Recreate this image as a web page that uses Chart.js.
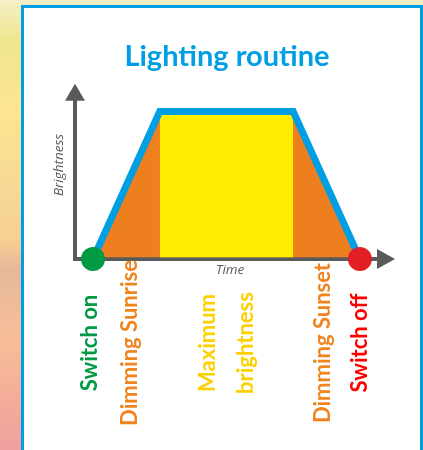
<!DOCTYPE html>
<html>
<head>
<meta charset="utf-8">
<script src="https://cdn.jsdelivr.net/npm/chart.js@4.4.1/dist/chart.umd.min.js"></script>
<style>
  body {
    margin: 0;
    width: 423px;
    height: 450px;
    overflow: hidden;
    position: relative;
    background: linear-gradient(180deg, #f4efc8 0%, #efe690 9%, #fce590 25%, #f6d596 46%, #f7cf92 53%, #e5b89b 60%, #f8be98 75%, #f4ad9a 88%, #f0a0a0 100%);
  }
  #panel {
    position: absolute;
    left: 21px;
    top: 5px;
    width: 396px;
    height: 460px;
    border: 3px solid #009fe3;
    border-bottom: none;
    background: #fff;
  }
  #chart {
    position: absolute;
    left: 0;
    top: 0;
  }
</style>
</head>
<body>
<div id="panel"></div>
<canvas id="chart" width="423" height="450"></canvas>
<script>
// lighting profile: time (0..100) against relative brightness (0..1)
const phaseTime = [0, 25, 75, 100];
const phaseLevel = [0, 1, 1, 0];
const fullTime = [25, 25, 75, 75];
const fullLevel = [0, 1, 1, 0];
const switchTime = [0, 100];
const switchLevel = [0, 0];

const stageLabels = ['Switch on', 'Dimming Sunrise', ['Maximum', 'brightness'], 'Dimming Sunset', 'Switch off'];
const stageTime = [-1.3, 14, 50, 86, 100];
const stageColors = ['#009a44', '#f0841f', '#fdd000', '#f0841f', '#ff0000'];

const blue = '#009fe3';
const orange = '#ee7f1e';
const yellow = '#ffed00';
const grey = '#5a5a5a';

const toPoints = (xs, ys) => xs.map((x, i) => ({x: x, y: ys[i]}));

const arrowsAndLabels = {
  id: 'arrowsAndLabels',
  afterDraw(chart) {
    const {ctx, chartArea, scales} = chart;
    const x = scales.x;
    ctx.save();
    // arrow heads on the axes
    ctx.fillStyle = grey;
    ctx.beginPath();
    ctx.moveTo(chartArea.right - 8, chartArea.bottom - 10);
    ctx.lineTo(chartArea.right + 10, chartArea.bottom);
    ctx.lineTo(chartArea.right - 8, chartArea.bottom + 10);
    ctx.closePath();
    ctx.fill();
    ctx.beginPath();
    ctx.moveTo(chartArea.left - 10, chartArea.top + 7);
    ctx.lineTo(chartArea.left, chartArea.top - 10);
    ctx.lineTo(chartArea.left + 10, chartArea.top + 7);
    ctx.closePath();
    ctx.fill();

    // y axis caption
    ctx.save();
    ctx.translate(59, 165);
    ctx.rotate(-Math.PI / 2);
    ctx.font = 'italic 13.5px "Open Sans"';
    ctx.textAlign = 'center';
    ctx.textBaseline = 'middle';
    ctx.fillText('Brightness', 0, 0);
    ctx.restore();

    // stage labels, written upwards
    ctx.font = 'bold 22px Lato';
    ctx.textAlign = 'center';
    ctx.textBaseline = 'middle';
    stageLabels.forEach((label, i) => {
      const lines = Array.isArray(label) ? label : [label];
      ctx.save();
      ctx.translate(x.getPixelForValue(stageTime[i]), 343);
      ctx.rotate(-Math.PI / 2);
      ctx.fillStyle = stageColors[i];
      lines.forEach((line, k) => {
        ctx.fillText(line, 0, (k - (lines.length - 1) / 2) * 38);
      });
      ctx.restore();
    });
    ctx.restore();
  }
};

new Chart(document.getElementById('chart'), {
  type: 'line',
  data: {
    datasets: [
      {
        // switch on / switch off
        data: toPoints(switchTime, switchLevel),
        showLine: false,
        pointRadius: 12,
        pointHoverRadius: 12,
        pointBorderWidth: 0,
        pointBackgroundColor: ['#009a44', '#e31f26'],
        clip: false
      },
      {
        // outline
        data: toPoints(phaseTime, phaseLevel),
        borderColor: blue,
        borderWidth: 7,
        borderJoinStyle: 'miter',
        pointRadius: 0,
        fill: false,
        clip: false
      },
      {
        // maximum brightness
        data: toPoints(fullTime, fullLevel),
        borderWidth: 0,
        pointRadius: 0,
        backgroundColor: yellow,
        fill: {value: 0.012},
        clip: false
      },
      {
        // dimming ramps
        data: toPoints(phaseTime, phaseLevel),
        borderWidth: 0,
        pointRadius: 0,
        backgroundColor: orange,
        fill: {value: 0.012},
        clip: false
      }
    ]
  },
  options: {
    responsive: false,
    animation: false,
    layout: {
      autoPadding: false,
      padding: {left: 69, right: 38, top: 0, bottom: 171}
    },
    plugins: {
      legend: {display: false},
      tooltip: {enabled: false},
      title: {
        display: true,
        text: 'Lighting routine',
        color: blue,
        font: {family: 'Lato', size: 29, weight: 'bold'},
        padding: {top: 39, bottom: 20}
      }
    },
    scales: {
      x: {
        type: 'linear',
        min: -6.75,
        max: 109.4,
        grid: {display: false, drawTicks: false},
        border: {display: true, color: grey, width: 4},
        ticks: {display: false},
        title: {
          display: true,
          text: 'Time',
          color: grey,
          font: {family: 'Open Sans', size: 13.5, style: 'italic'},
          padding: {top: 0, bottom: 1}
        },
        afterFit(scale) { scale.height = 20; }
      },
      y: {
        min: 0,
        max: 1.12,
        grid: {display: false, drawTicks: false},
        border: {display: true, color: grey, width: 4},
        ticks: {display: false},
        afterFit(scale) { scale.width = 6; }
      }
    }
  },
  plugins: [arrowsAndLabels]
});
</script>
</body>
</html>
